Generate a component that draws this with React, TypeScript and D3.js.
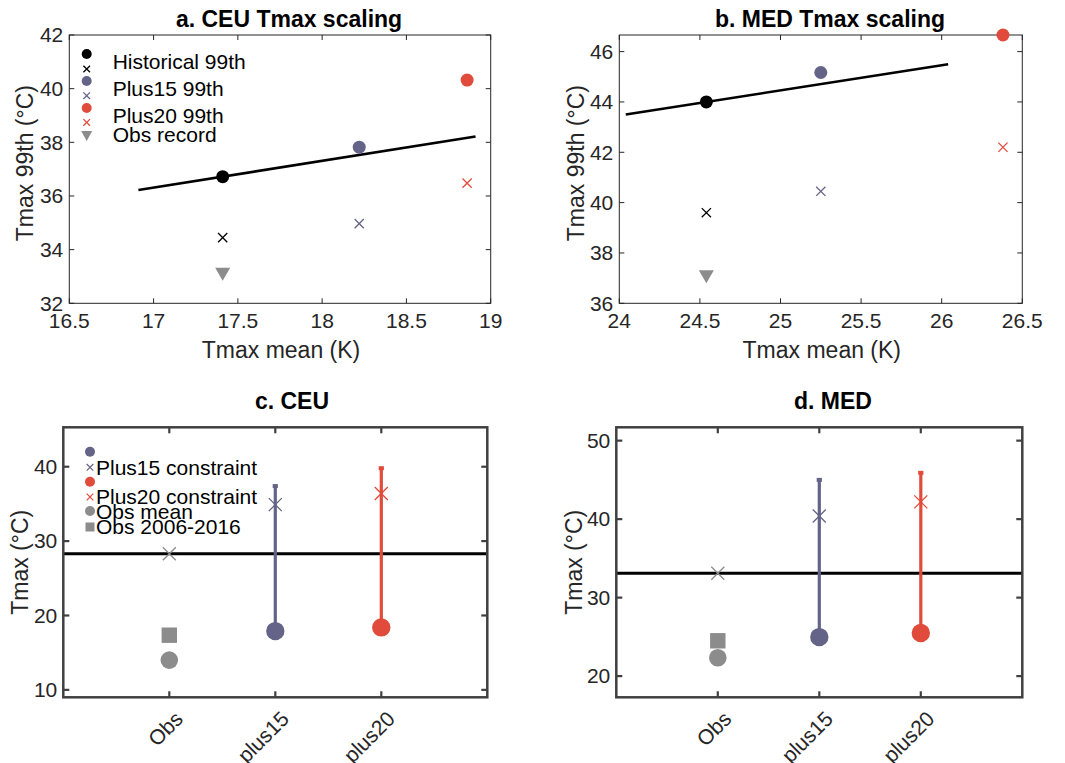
import React from "react";
import * as d3 from "d3";

// ---------- DATA ----------
const scalingSeries = ["Historical 99th", "Plus15 99th", "Plus20 99th"];
const ceuTmaxMean = [17.41, 18.22, 18.86];
const ceuTmax99 = [36.72, 37.82, 40.32];
const ceuTmax99Cross = [34.45, 34.97, 36.48];
const ceuObsRecord = 33.08;
const ceuFitX = [16.91, 18.91];
const ceuFitY = [36.22, 38.22];

const medTmaxMean = [24.54, 25.25, 26.38];
const medTmax99 = [44.0, 45.17, 46.66];
const medTmax99Cross = [39.6, 40.45, 42.2];
const medObsRecord = 37.05;
const medFitX = [24.04, 26.04];
const medFitY = [43.5, 45.5];

const ceuXTicks = [16.5, 17, 17.5, 18, 18.5, 19];
const ceuYTicks = [32, 34, 36, 38, 40, 42];
const medXTicks = [24, 24.5, 25, 25.5, 26, 26.5];
const medYTicks = [36, 38, 40, 42, 44, 46];

const constraintCategories = ["Obs", "plus15", "plus20"];
const ceuObsMean = 14.0;
const ceuObs0616 = 17.35;
const ceuObsCross = 28.3;
const ceuRefLine = 28.3;
const ceuDots = [17.9, 18.4];
const ceuCross = [34.9, 36.4];
const ceuTop = [37.4, 39.8];
const ceuCTicks = [10, 20, 30, 40];

const medObsMean = 22.33;
const medObs0616 = 24.5;
const medObsCross = 33.1;
const medRefLine = 33.1;
const medDots = [24.97, 25.5];
const medCross = [40.4, 42.2];
const medTop = [45.0, 45.9];
const medCTicks = [20, 30, 40, 50];

// ---------- STYLE ----------
const FONT = "'Liberation Sans', Arial, Helvetica, sans-serif";
const BLACK = "#000000";
const PURPLE = "#646489";
const RED = "#e14b3b";
const GRAY = "#8c8c8c";
const seriesColors = [BLACK, PURPLE, RED];
const AXIS = "#262626";
const AXIS2 = "#404040";

const TICK_FS = 21;
const LABEL_FS = 23;
const TITLE_FS = 23;
const LEGEND_FS = 21;

const crossPath = (s: number) => `M${-s},${-s}L${s},${s}M${-s},${s}L${s},${-s}`;
const triPath = (w: number, h: number) => `M${-w / 2},${-h / 2}L${w / 2},${-h / 2}L0,${h / 2}Z`;

type Box = { l: number; r: number; t: number; b: number };

function ScalingPanel(props: {
  box: Box;
  xDomain: [number, number];
  yDomain: [number, number];
  xTicks: number[];
  yTicks: number[];
  mean: number[];
  p99: number[];
  cross: number[];
  obsRecord: number;
  fitX: number[];
  fitY: number[];
  title: string;
  titleX: number;
  ylabelX: number;
  legend?: boolean;
}) {
  const { box } = props;
  const x = d3.scaleLinear().domain(props.xDomain).range([box.l, box.r]);
  const y = d3.scaleLinear().domain(props.yDomain).range([box.b, box.t]);
  const tl = 5;
  const line = d3.line<number>().x((_, i) => x(props.fitX[i])).y((d) => y(d));
  const midY = (box.t + box.b) / 2;
  return (
    <g>
      <rect x={box.l} y={box.t} width={box.r - box.l} height={box.b - box.t} fill="#fff" stroke={AXIS} strokeWidth={1} />
      {props.xTicks.map((t) => (
        <g key={"xt" + t}>
          <line x1={x(t)} x2={x(t)} y1={box.b} y2={box.b - tl} stroke={AXIS} />
          <line x1={x(t)} x2={x(t)} y1={box.t} y2={box.t + tl} stroke={AXIS} />
          <text x={x(t)} y={box.b + 25} textAnchor="middle" fontSize={TICK_FS} fill={AXIS} fontFamily={FONT}>
            {String(t)}
          </text>
        </g>
      ))}
      {props.yTicks.map((t) => (
        <g key={"yt" + t}>
          <line x1={box.l} x2={box.l + tl} y1={y(t)} y2={y(t)} stroke={AXIS} />
          <line x1={box.r} x2={box.r - tl} y1={y(t)} y2={y(t)} stroke={AXIS} />
          <text x={box.l - 6} y={y(t)} dy="0.35em" textAnchor="end" fontSize={TICK_FS} fill={AXIS} fontFamily={FONT}>
            {String(t)}
          </text>
        </g>
      ))}
      <path d={line(props.fitY) || ""} stroke={BLACK} strokeWidth={2.6} fill="none" />
      <path d={triPath(15, 13)} transform={`translate(${x(props.mean[0])},${y(props.obsRecord)})`} fill={GRAY} />
      {props.mean.map((m, i) => (
        <g key={"pt" + i}>
          <path d={crossPath(4.6)} transform={`translate(${x(m)},${y(props.cross[i])})`} stroke={seriesColors[i]} strokeWidth={1.3} fill="none" />
          <circle cx={x(m)} cy={y(props.p99[i])} r={6.5} fill={seriesColors[i]} />
        </g>
      ))}
      <text x={props.titleX} y={27} textAnchor="middle" fontSize={TITLE_FS} fontWeight="bold" fontFamily={FONT} fill="#000">
        {props.title}
      </text>
      <text x={(box.l + box.r) / 2 + 1} y={358} textAnchor="middle" fontSize={LABEL_FS} fill={AXIS} fontFamily={FONT}>
        Tmax mean (K)
      </text>
      <text transform={`translate(${props.ylabelX},${midY - 6}) rotate(-90)`} textAnchor="middle" dy="0.35em" fontSize={LABEL_FS} fill={AXIS} fontFamily={FONT}>
        Tmax 99th (°C)
      </text>
      {props.legend && (
        <g fontFamily={FONT} fontSize={LEGEND_FS} fill="#000">
          {scalingSeries.map((s, i) => (
            <g key={"lg" + i}>
              <circle cx={86.7} cy={54 + i * 27} r={5} fill={seriesColors[i]} />
              <path d={crossPath(3.3)} transform={`translate(86.7,${69 + i * 26.7})`} stroke={seriesColors[i]} strokeWidth={1.3} fill="none" />
              <text x={112.7} y={69 + i * 27}>{s}</text>
            </g>
          ))}
          <path d={triPath(11, 10)} transform="translate(86.7,136)" fill={GRAY} />
          <text x={112.7} y={142}>Obs record</text>
        </g>
      )}
    </g>
  );
}

function ConstraintPanel(props: {
  box: Box;
  yDomain: [number, number];
  yTicks: number[];
  obsMean: number;
  obs0616: number;
  obsCross: number;
  refLine: number;
  dots: number[];
  cross: number[];
  top: number[];
  title: string;
  titleX: number;
  ylabelX: number;
  legend?: boolean;
}) {
  const { box } = props;
  const x = d3.scaleLinear().domain([0, 4]).range([box.l, box.r]);
  const y = d3.scaleLinear().domain(props.yDomain).range([box.b, box.t]);
  const tl = 6;
  const cols = [PURPLE, RED];
  const midY = (box.t + box.b) / 2;
  return (
    <g>
      <rect x={box.l} y={box.t} width={box.r - box.l} height={box.b - box.t} fill="#fff" />
      {constraintCategories.map((c, i) => (
        <g key={"xt" + c}>
          <line x1={x(i + 1)} x2={x(i + 1)} y1={box.b} y2={box.b - tl} stroke={AXIS2} strokeWidth={2.2} />
          <line x1={x(i + 1)} x2={x(i + 1)} y1={box.t} y2={box.t + tl} stroke={AXIS2} strokeWidth={2.2} />
          <text transform={`translate(${x(i + 1) + 15},${box.b + 23}) rotate(-45)`} textAnchor="end" fontSize={TICK_FS} fill={AXIS} fontFamily={FONT}>
            {c}
          </text>
        </g>
      ))}
      {props.yTicks.map((t) => (
        <g key={"yt" + t}>
          <line x1={box.l} x2={box.l + tl} y1={y(t)} y2={y(t)} stroke={AXIS2} strokeWidth={2.2} />
          <line x1={box.r} x2={box.r - tl} y1={y(t)} y2={y(t)} stroke={AXIS2} strokeWidth={2.2} />
          <text x={box.l - 6} y={y(t)} dy="0.35em" textAnchor="end" fontSize={TICK_FS} fill={AXIS} fontFamily={FONT}>
            {String(t)}
          </text>
        </g>
      ))}
      <line x1={box.l} x2={box.r} y1={y(props.refLine)} y2={y(props.refLine)} stroke={BLACK} strokeWidth={3} />
      <path d={crossPath(6.5)} transform={`translate(${x(1)},${y(props.obsCross)})`} stroke={GRAY} strokeWidth={1.3} fill="none" />
      <rect x={x(1) - 7.7} y={y(props.obs0616) - 7.7} width={15.4} height={15.4} fill={GRAY} />
      <circle cx={x(1)} cy={y(props.obsMean)} r={8.8} fill={GRAY} />
      {props.dots.map((d, i) => (
        <g key={"c" + i}>
          <line x1={x(i + 2)} x2={x(i + 2)} y1={y(d)} y2={y(props.top[i])} stroke={cols[i]} strokeWidth={3.2} />
          <rect x={x(i + 2) - 2.6} y={y(props.top[i]) - 2} width={5.2} height={4} fill={cols[i]} />
          <circle cx={x(i + 2)} cy={y(d)} r={9.2} fill={cols[i]} />
          <path d={crossPath(6.5)} transform={`translate(${x(i + 2)},${y(props.cross[i])})`} stroke={cols[i]} strokeWidth={1.3} fill="none" />
        </g>
      ))}
      <rect x={box.l} y={box.t} width={box.r - box.l} height={box.b - box.t} fill="none" stroke={AXIS2} strokeWidth={2.5} />
      <text x={props.titleX} y={409} textAnchor="middle" fontSize={TITLE_FS} fontWeight="bold" fontFamily={FONT} fill="#000">
        {props.title}
      </text>
      <text transform={`translate(${props.ylabelX},${midY}) rotate(-90)`} textAnchor="middle" dy="0.35em" fontSize={LABEL_FS} fill={AXIS} fontFamily={FONT}>
        Tmax (°C)
      </text>
      {props.legend && (
        <g fontFamily={FONT} fontSize={LEGEND_FS} fill="#000">
          <circle cx={90} cy={451.7} r={5} fill={PURPLE} />
          <path d={crossPath(3.3)} transform="translate(90,467.3)" stroke={PURPLE} strokeWidth={1.2} fill="none" />
          <text x={96} y={475}>Plus15 constraint</text>
          <circle cx={90} cy={481.7} r={5} fill={RED} />
          <path d={crossPath(3.3)} transform="translate(90,497)" stroke={RED} strokeWidth={1.2} fill="none" />
          <text x={96} y={504}>Plus20 constraint</text>
          <circle cx={90} cy={511} r={5} fill={GRAY} />
          <text x={96} y={518.5}>Obs mean</text>
          <rect x={85.5} y={522.5} width={9} height={9} fill={GRAY} />
          <text x={96} y={533.5}>Obs 2006-2016</text>
        </g>
      )}
    </g>
  );
}

export default function App() {
  return (
    <svg width={1065} height={763} style={{ position: "absolute", left: 0, top: 0, background: "#fff" }} xmlns="http://www.w3.org/2000/svg">
      <rect width={1065} height={763} fill="#fff" />
      <ScalingPanel
        box={{ l: 69.3, r: 490.7, t: 35, b: 303.3 }}
        xDomain={[16.5, 19]}
        yDomain={[32, 42]}
        xTicks={ceuXTicks}
        yTicks={ceuYTicks}
        mean={ceuTmaxMean}
        p99={ceuTmax99}
        cross={ceuTmax99Cross}
        obsRecord={ceuObsRecord}
        fitX={ceuFitX}
        fitY={ceuFitY}
        title="a. CEU Tmax scaling"
        titleX={289}
        ylabelX={25}
        legend
      />
      <ScalingPanel
        box={{ l: 619.3, r: 1022.3, t: 35, b: 303.3 }}
        xDomain={[24, 26.5]}
        yDomain={[36, 46.66]}
        xTicks={medXTicks}
        yTicks={medYTicks}
        mean={medTmaxMean}
        p99={medTmax99}
        cross={medTmax99Cross}
        obsRecord={medObsRecord}
        fitX={medFitX}
        fitY={medFitY}
        title="b. MED Tmax scaling"
        titleX={830}
        ylabelX={576}
      />
      <ConstraintPanel
        box={{ l: 63.3, r: 487.3, t: 427.3, b: 697.3 }}
        yDomain={[9.0, 45.3]}
        yTicks={ceuCTicks}
        obsMean={ceuObsMean}
        obs0616={ceuObs0616}
        obsCross={ceuObsCross}
        refLine={ceuRefLine}
        dots={ceuDots}
        cross={ceuCross}
        top={ceuTop}
        title="c. CEU"
        titleX={292}
        ylabelX={20}
        legend
      />
      <ConstraintPanel
        box={{ l: 616.3, r: 1022.3, t: 427.3, b: 697.3 }}
        yDomain={[17.3, 51.7]}
        yTicks={medCTicks}
        obsMean={medObsMean}
        obs0616={medObs0616}
        obsCross={medObsCross}
        refLine={medRefLine}
        dots={medDots}
        cross={medCross}
        top={medTop}
        title="d. MED"
        titleX={833}
        ylabelX={574}
      />
    </svg>
  );
}
